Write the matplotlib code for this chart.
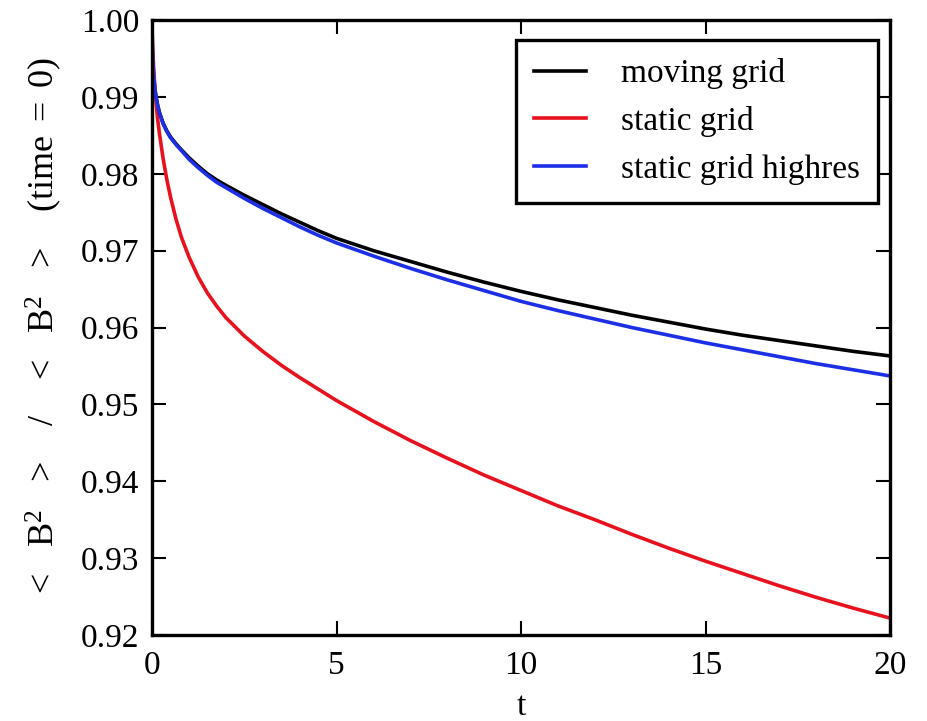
import matplotlib
matplotlib.use("Agg")
import matplotlib.pyplot as plt

t = [0, 0.01, 0.02, 0.04, 0.07, 0.1, 0.15, 0.2, 0.3, 0.4, 0.5, 0.65, 0.8, 1.0, 1.25, 1.5, 1.75,
     2.0, 2.5, 3.0, 3.5, 4, 4.5, 5, 6, 7, 8, 9, 10, 11, 12, 13, 14, 15, 16, 17, 18, 19, 20]
moving_grid = [1.0, 0.9962, 0.9948, 0.9930, 0.9914, 0.9903, 0.9890, 0.9880, 0.9866, 0.9856, 0.9848,
               0.9839, 0.9831, 0.9821, 0.9810, 0.9800, 0.9792, 0.9785, 0.9772, 0.9760, 0.9748,
               0.9737, 0.9726, 0.9716, 0.9700, 0.9686, 0.9672, 0.9659, 0.9647, 0.9636, 0.9626,
               0.9616, 0.9607, 0.9598, 0.9590, 0.9583, 0.9576, 0.9569, 0.9563]
static_grid = [1.0, 0.9972, 0.9960, 0.9942, 0.9918, 0.9898, 0.9872, 0.9853, 0.9820, 0.9793, 0.9770,
               0.9741, 0.9717, 0.9692, 0.9666, 0.9645, 0.9628, 0.9613, 0.9589, 0.9569, 0.9551,
               0.9535, 0.9520, 0.9505, 0.9478, 0.9453, 0.9430, 0.9408, 0.9388, 0.9368, 0.9350,
               0.9331, 0.9313, 0.9296, 0.9280, 0.9264, 0.9249, 0.9235, 0.9222]
static_grid_highres = [1.0, 0.9961, 0.9947, 0.9929, 0.9913, 0.9902, 0.9889, 0.9879, 0.9865, 0.9855,
                       0.9847, 0.9838, 0.9830, 0.9819, 0.9808, 0.9798, 0.9789, 0.9782, 0.9768,
                       0.9755, 0.9743, 0.9731, 0.9720, 0.9710, 0.9693, 0.9677, 0.9662, 0.9648,
                       0.9634, 0.9622, 0.9611, 0.9600, 0.9590, 0.9580, 0.9571, 0.9562, 0.9553,
                       0.9545, 0.9537]
labels = ["moving grid", "static grid", "static grid highres"]
colors = ["#000000", "#e8121e", "#1d2fe6"]
xticks = [0, 5, 10, 15, 20]
yticks = [0.92, 0.93, 0.94, 0.95, 0.96, 0.97, 0.98, 0.99, 1.00]

plt.rcParams['font.family'] = ['Liberation Serif', 'DejaVu Serif']
plt.rcParams['mathtext.fontset'] = 'custom'
plt.rcParams['mathtext.rm'] = 'Liberation Serif'
plt.rcParams['mathtext.it'] = 'Liberation Serif:italic'
plt.rcParams['font.size'] = 24

fig = plt.figure(figsize=(9.27, 7.21), dpi=100)
ax = fig.add_axes([152/927, 1-635/721, (890-152)/927, (635-20)/721])

for y, lab, c in zip([moving_grid, static_grid, static_grid_highres], labels, colors):
    ax.plot(t, y, color=c, lw=2.6, label=lab)

ax.set_xlim(0, 20)
ax.set_ylim(0.92, 1.00)
ax.set_xticks(xticks)
ax.set_yticks(yticks)
ax.set_yticklabels([f"{v:.2f}" for v in yticks])
ax.tick_params(direction='in', length=10, width=1.5, top=True, right=True, labelsize=24)
ax.tick_params(axis='x', pad=11)
ax.tick_params(axis='y', pad=9)
for s in ax.spines.values():
    s.set_linewidth(2.4)

ax.set_xlabel("t", labelpad=8)
sp = r"\ \ \,"
ax.set_ylabel(r"$<" + sp + r"\mathrm{B}^2" + sp + r">" + sp + r"\ /" + sp + r"\ <" + sp +
              r"\mathrm{B}^2" + sp + r">" + sp + r"\ (\mathrm{time}\ =\ 0)$",
              fontsize=26, labelpad=12)

leg = ax.legend(loc='upper right', bbox_to_anchor=(878/927, 1-40/721), bbox_transform=fig.transFigure,
                borderaxespad=0, fancybox=False, framealpha=1, edgecolor='black',
                handlelength=1.55, handletextpad=1.05, labelspacing=0.5, borderpad=0.55, fontsize=24)
leg.get_frame().set_linewidth(2.4)

fig.savefig("out.png", dpi=100)
